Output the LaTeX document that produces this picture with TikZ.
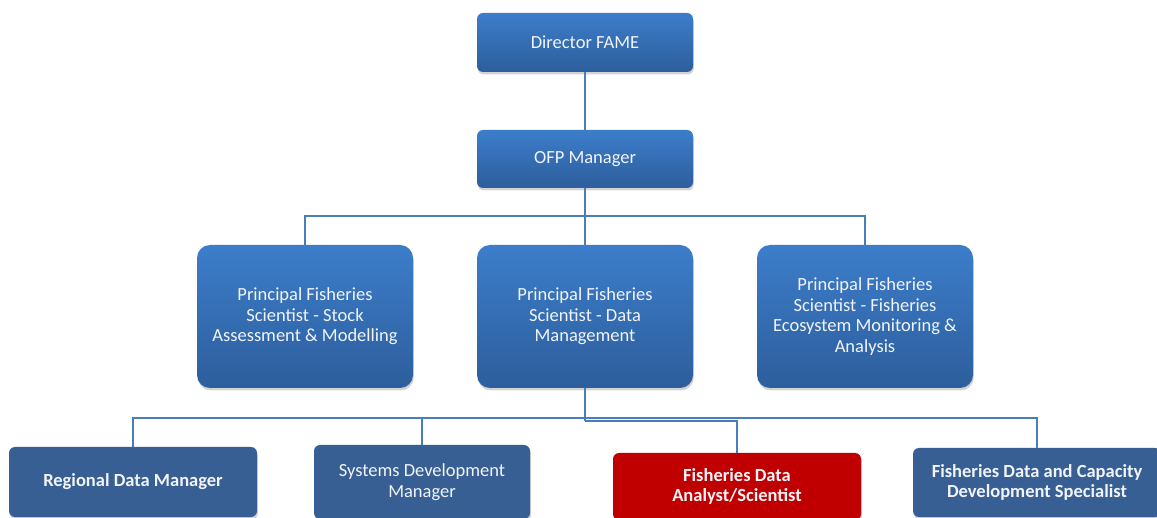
\documentclass[tikz,border=0pt]{standalone}
\usepackage{fontspec}
\setmainfont{Carlito}
\usetikzlibrary{shadows}

\definecolor{boxtop}{HTML}{3C7DCA}
\definecolor{boxbot}{HTML}{2D5E9C}
\definecolor{staffblue}{HTML}{375F93}
\definecolor{staffred}{HTML}{C00000}
\definecolor{linkblue}{HTML}{4A7EBB}
\definecolor{labelwhite}{HTML}{F2F4F8}

\newcommand{\orgfont}{\fontsize{18.5}{20.6}\selectfont}

\tikzset{
  orgbox/.style={draw=none, inner sep=2pt, align=center, text=labelwhite,
    font=\orgfont,
    drop shadow={opacity=0.35, shadow xshift=0.8pt, shadow yshift=-2.5pt}},
  headbox/.style={orgbox, top color=boxtop, bottom color=boxbot,
    rounded corners=6pt, minimum width=216pt},
  leadbox/.style={orgbox, top color=boxtop, bottom color=boxbot,
    rounded corners=13pt, minimum width=216pt, minimum height=143pt},
  staffbox/.style={orgbox, fill=staffblue, rounded corners=6pt},
  alertbox/.style={orgbox, fill=staffred, rounded corners=6pt},
  boldlabel/.style={font=\orgfont\bfseries},
  conn/.style={draw=linkblue, line width=1.5pt}
}

\begin{document}
\begin{tikzpicture}[x=1pt,y=-1pt]
\useasboundingbox (0,0) rectangle (1157,518);

% management chain
\node[headbox, minimum height=59pt] (dir) at (585,42.5) {Director FAME};
\node[headbox, minimum height=58pt] (ofp) at (585,159) {OFP Manager};

% principal scientists
\node[leadbox] (psa) at (305,316.5) {Principal Fisheries\\Scientist - Stock\\Assessment \& Modelling};
\node[leadbox] (pdm) at (585,316.5) {Principal Fisheries\\Scientist - Data\\Management};
\node[leadbox] (pfe) at (865,316.5) {Principal Fisheries\\Scientist - Fisheries\\Ecosystem Monitoring \&\\Analysis};

% data management staff
\node[staffbox, boldlabel, minimum width=248pt, minimum height=70pt] (rdm) at (133,482) {Regional Data Manager};
\node[staffbox, minimum width=216pt, minimum height=74pt] (sdm) at (422,482) {Systems Development\\Manager};
\node[alertbox, boldlabel, minimum width=248pt, minimum height=67pt] (fda) at (737,486.5) {Fisheries Data\\Analyst/Scientist};
\node[staffbox, boldlabel, minimum width=248pt, minimum height=69pt] (cap) at (1037,482.5) {Fisheries Data and Capacity\\Development Specialist};

% connector buses
\coordinate (busA) at (585,216);
\coordinate (busB) at (585,418);
\coordinate (busC) at (585,421);

\draw[conn] (dir.south) -- (ofp.north);
\draw[conn] (ofp.south) -- (pdm.north);
\draw[conn] (busA) -| (psa.north);
\draw[conn] (busA) -| (pfe.north);
\draw[conn] (pdm.south) -- (busC);
\draw[conn] (busB) -| (rdm.north);
\draw[conn] (busB) -| (sdm.north);
\draw[conn] (busB) -| (cap.north);
\draw[conn] (busC) -| (fda.north);
\end{tikzpicture}
\end{document}
